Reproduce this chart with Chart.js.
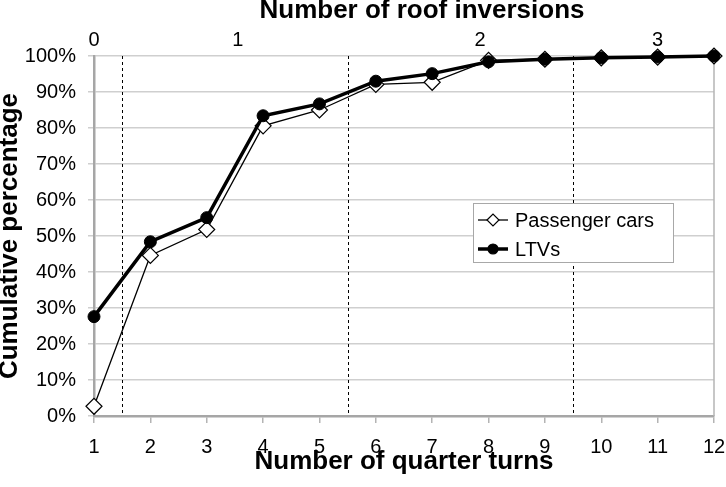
<!DOCTYPE html>
<html>
<head>
<meta charset="utf-8">
<script src="https://cdn.jsdelivr.net/npm/chart.js@4"></script>
<style>
  html, body { margin: 0; padding: 0; background: #fff; }
  #wrap { width: 726px; height: 487px; }
</style>
</head>
<body>
<div id="wrap"><canvas id="chart" width="726" height="487"></canvas></div>
<script>
const quarterTurns = [1, 2, 3, 4, 5, 6, 7, 8, 9, 10, 11, 12];
const passengerCars = [2.7, 44.6, 51.8, 80.6, 85.0, 92.1, 92.7, 98.8, 99.1, 99.5, 99.7, 100];
const ltvs = [27.6, 48.4, 55.1, 83.4, 86.7, 93.0, 95.1, 98.4, 99.1, 99.5, 99.7, 100];

// top axis: roof inversions
const roofLabels = ['0', '1', '2', '3'];
const roofLabelPos = [1, 3.55, 7.85, 11];
const roofDividers = [1.5, 5.5, 9.5];

const FONT = "'Liberation Sans', Arial, sans-serif";

const series = [
  { label: 'Passenger cars', values: passengerCars, width: 1.3, style: 'rectRot', radius: 8, fill: '#fff' },
  { label: 'LTVs', values: ltvs, width: 3.5, style: 'circle', radius: 6, fill: '#000' }
];

function marker(ctx, style, x, y, r, fill) {
  ctx.beginPath();
  if (style === 'circle') {
    ctx.arc(x, y, r, 0, Math.PI * 2);
  } else {
    ctx.moveTo(x - r, y);
    ctx.lineTo(x, y - r);
    ctx.lineTo(x + r, y);
    ctx.lineTo(x, y + r);
    ctx.closePath();
  }
  ctx.fillStyle = fill;
  ctx.fill();
  ctx.lineWidth = 1.2;
  ctx.strokeStyle = '#000';
  ctx.stroke();
}

const extras = {
  id: 'extras',
  beforeDatasetsDraw(chart) {
    const { ctx, chartArea: a, scales: { x } } = chart;
    ctx.save();
    // right frame line
    ctx.strokeStyle = '#b4b4b4';
    ctx.lineWidth = 1.5;
    ctx.beginPath();
    ctx.moveTo(a.right, a.top);
    ctx.lineTo(a.right, a.bottom);
    ctx.stroke();
    // dashed dividers between roof inversion groups
    ctx.strokeStyle = '#000';
    ctx.lineWidth = 1;
    ctx.setLineDash([3, 3]);
    roofDividers.forEach(v => {
      const px = Math.round(x.getPixelForValue(v)) + 0.5;
      ctx.beginPath();
      ctx.moveTo(px, a.top);
      ctx.lineTo(px, a.bottom);
      ctx.stroke();
    });
    ctx.restore();
  },
  afterDatasetsDraw(chart) {
    const { ctx, chartArea: a } = chart;
    const left = a.right - 241, top = a.top + 147, w = 200, h = 59;
    ctx.save();
    ctx.fillStyle = '#fff';
    ctx.fillRect(left, top, w, h);
    ctx.strokeStyle = '#a8a8a8';
    ctx.lineWidth = 1;
    ctx.strokeRect(left + 0.5, top + 0.5, w, h);
    ctx.font = '20px ' + FONT;
    ctx.textBaseline = 'middle';
    series.forEach((s, i) => {
      const cy = top + 17 + i * 29;
      ctx.strokeStyle = '#000';
      ctx.lineWidth = s.width;
      ctx.beginPath();
      ctx.moveTo(left + 5, cy);
      ctx.lineTo(left + 35, cy);
      ctx.stroke();
      marker(ctx, s.style, left + 20, cy, s.style === 'circle' ? 5 : 6, s.fill);
      ctx.fillStyle = '#000';
      ctx.fillText(s.label, left + 42, cy + 1);
    });
    ctx.restore();
  },
  afterDraw(chart) {
    const { ctx, chartArea: a } = chart;
    ctx.save();
    ctx.font = 'bold 26px ' + FONT;
    ctx.fillStyle = '#000';
    ctx.textAlign = 'center';
    ctx.textBaseline = 'alphabetic';
    ctx.fillText('Number of roof inversions', (a.left + a.right) / 2 + 18, 18);
    ctx.restore();
  }
};

new Chart(document.getElementById('chart'), {
  type: 'line',
  data: {
    datasets: [
      {
        label: 'LTVs',
        data: quarterTurns.map((q, i) => ({ x: q, y: ltvs[i] })),
        borderColor: '#000',
        borderWidth: 3.5,
        pointStyle: 'circle',
        pointRadius: 6,
        pointBackgroundColor: '#000',
        pointBorderColor: '#000',
        pointBorderWidth: 1,
        tension: 0,
        clip: false,
        order: 1
      },
      {
        label: 'Passenger cars',
        data: quarterTurns.map((q, i) => ({ x: q, y: passengerCars[i] })),
        borderColor: '#000',
        borderWidth: 1.3,
        pointStyle: 'rectRot',
        pointRadius: 8,
        pointBackgroundColor: '#fff',
        pointBorderColor: '#000',
        pointBorderWidth: 1.2,
        tension: 0,
        clip: false,
        order: 2
      }
    ]
  },
  options: {
    responsive: false,
    devicePixelRatio: 1,
    animation: false,
    layout: { padding: { left: 0, right: 12, top: 0, bottom: 0 } },
    plugins: {
      legend: { display: false },
      tooltip: { enabled: false }
    },
    scales: {
      x: {
        type: 'linear',
        position: 'bottom',
        min: 1,
        max: 12,
        ticks: { stepSize: 1, font: { family: FONT, size: 20 }, color: '#000', padding: 12, maxRotation: 0 },
        grid: { drawOnChartArea: false, drawTicks: true, tickLength: 7, color: '#b4b4b4', lineWidth: 1.5 },
        border: { color: '#a6a6a6', width: 2.5 },
        title: {
          display: true,
          text: 'Number of quarter turns',
          color: '#000',
          font: { family: FONT, size: 26, weight: 'bold', lineHeight: 1 },
          padding: { top: 0, bottom: 12 }
        },
        afterFit(s) { s.height = 71; s.paddingRight = 0; }
      },
      x2: {
        type: 'linear',
        position: 'top',
        min: 1,
        max: 12,
        afterBuildTicks(s) { s.ticks = roofLabelPos.map(v => ({ value: v })); },
        ticks: {
          autoSkip: false,
          maxRotation: 0,
          padding: 4,
          color: '#000',
          font: { family: FONT, size: 20 },
          callback: (v, i) => roofLabels[i]
        },
        grid: { display: false, drawTicks: false },
        border: { display: false },
        afterFit(s) { s.height = 56; s.paddingRight = 0; }
      },
      y: {
        min: 0,
        max: 100,
        ticks: {
          stepSize: 10,
          font: { family: FONT, size: 20 },
          color: '#000',
          padding: 12,
          callback: v => v + '%'
        },
        grid: { color: '#cfcfcf', lineWidth: 1.5, tickLength: 6, drawTicks: true },
        border: { color: '#a6a6a6', width: 2.5 },
        title: {
          display: true,
          text: 'Cumulative percentage',
          color: '#000',
          font: { family: FONT, size: 26, weight: 'bold', lineHeight: 1 },
          padding: { top: -3, bottom: 0 }
        },
        afterFit(s) { s.width = 94; }
      }
    }
  },
  plugins: [extras]
});
</script>
</body>
</html>
